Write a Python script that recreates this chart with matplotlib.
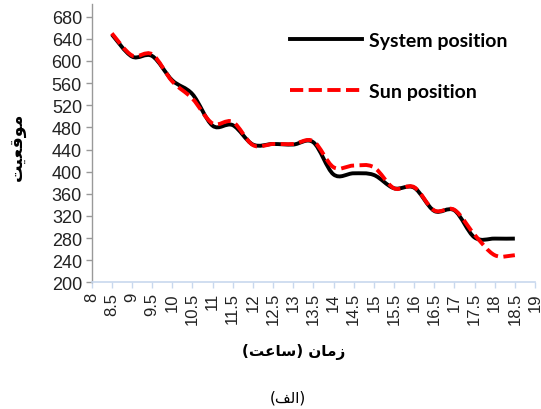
import numpy as np
import matplotlib
matplotlib.use("Agg")
import matplotlib.pyplot as plt
from matplotlib.path import Path
from matplotlib.patches import PathPatch
from matplotlib.lines import Line2D

hours = [8.5, 9, 9.5, 10, 10.5, 11, 11.5, 12, 12.5, 13, 13.5, 14, 14.5, 15,
         15.5, 16, 16.5, 17, 17.5, 18, 18.5]
system_pos = [648, 608, 609, 565, 540, 483, 484, 449, 450, 449, 453, 395, 397, 394,
              370, 371, 329, 330, 281, 279, 279]
sun_pos = [650, 610, 612, 563, 532, 487, 490, 448, 450, 450, 455, 408, 411, 408,
           370, 372, 330, 331, 286, 249, 249]
series_names = ["System position", "Sun position"]
x_ticks = [8 + 0.5 * i for i in range(23)]
y_ticks = list(range(200, 681, 40))

# Persian labels (presentation forms, visual order)
ylabel = "\uFE96\uFEF4\uFECC\uFED7\uFEEE\uFEE3"            # موقعیت
xlabel = "(\uFE96\uFECB\uFE8E\uFEB3) \uFEE5\uFE8E\uFEE3\uFEAF"  # زمان (ساعت)
caption = "(\uFED2\uFEDF\uFE8D)"                           # (الف)


def smooth_path(xs, ys):
    """Excel-style smooth line: cubic Bezier with Catmull-Rom control points."""
    xs = np.asarray(xs, float)
    ys = np.asarray(ys, float)
    pts = np.column_stack([xs, ys])
    verts = [pts[0]]
    codes = [Path.MOVETO]
    n = len(pts)
    for i in range(n - 1):
        p0 = pts[i - 1] if i > 0 else pts[i]
        p1 = pts[i]
        p2 = pts[i + 1]
        p3 = pts[i + 2] if i + 2 < n else pts[i + 1]
        c1 = p1 + (p2 - p0) / 6.0
        c2 = p2 - (p3 - p1) / 6.0
        verts += [c1, c2, p2]
        codes += [Path.CURVE4] * 3
    return Path(verts, codes)


plt.rcParams['font.family'] = ['Liberation Sans', 'DejaVu Sans']

fig = plt.figure(figsize=(5.41, 4.10), dpi=100)
ax = fig.add_axes([91.7 / 541, 1 - 283.3 / 410, (535 - 91.7) / 541, (283.3 - 5) / 410])

LW = 2.8
DASH = (0, (3.4, 1.4))
ax.add_patch(PathPatch(smooth_path(hours, system_pos), fill=False,
                       edgecolor='black', lw=LW, capstyle='butt', zorder=3))
ax.add_patch(PathPatch(smooth_path(hours, sun_pos), fill=False,
                       edgecolor='#ff0000', lw=LW, linestyle=DASH,
                       capstyle='butt', zorder=4))

ax.set_xlim(8, 19)
ax.set_ylim(200, 703)
ax.set_xticks(x_ticks)
ax.set_xticklabels([f"{t:g}" for t in x_ticks], rotation=90)
ax.set_yticks(y_ticks)
ax.tick_params(axis='both', colors='#222222', length=4, width=1)
ax.tick_params(axis='x', labelsize=12, color='#c8d8ee', pad=3)
ax.tick_params(axis='y', labelsize=13, color='#999999', pad=3)

for s in ['top', 'right']:
    ax.spines[s].set_visible(False)
ax.spines['left'].set_color('#999999')
ax.spines['bottom'].set_color('#c8d8ee')
ax.spines['left'].set_linewidth(1)
ax.spines['bottom'].set_linewidth(1.2)

handles = [Line2D([], [], color='black', lw=LW),
           Line2D([], [], color='#ff0000', lw=LW, linestyle=DASH)]
leg = ax.legend(handles, series_names, loc='upper left',
                bbox_to_anchor=((290 - 91.7) / (535 - 91.7), 1 - (33 - 5) / 278.3),
                frameon=False, handlelength=3.7, handletextpad=0.35,
                labelspacing=1.75, borderpad=0, borderaxespad=0,
                prop={'family': ['Lato', 'DejaVu Sans'], 'weight': 'bold', 'size': 14})

fig.text(17 / 541, 1 - 147 / 410, ylabel, rotation=90, ha='center', va='center',
         fontsize=12.5, fontweight='bold', family=['DejaVu Sans'])
fig.text(294 / 541, 1 - 352 / 410, xlabel, ha='center', va='center',
         fontsize=11, fontweight='bold', family=['DejaVu Sans'])
fig.text(288 / 541, 1 - 398 / 410, caption, ha='center', va='center',
         fontsize=11, family=['DejaVu Sans'])

fig.savefig("out.png", dpi=100)
